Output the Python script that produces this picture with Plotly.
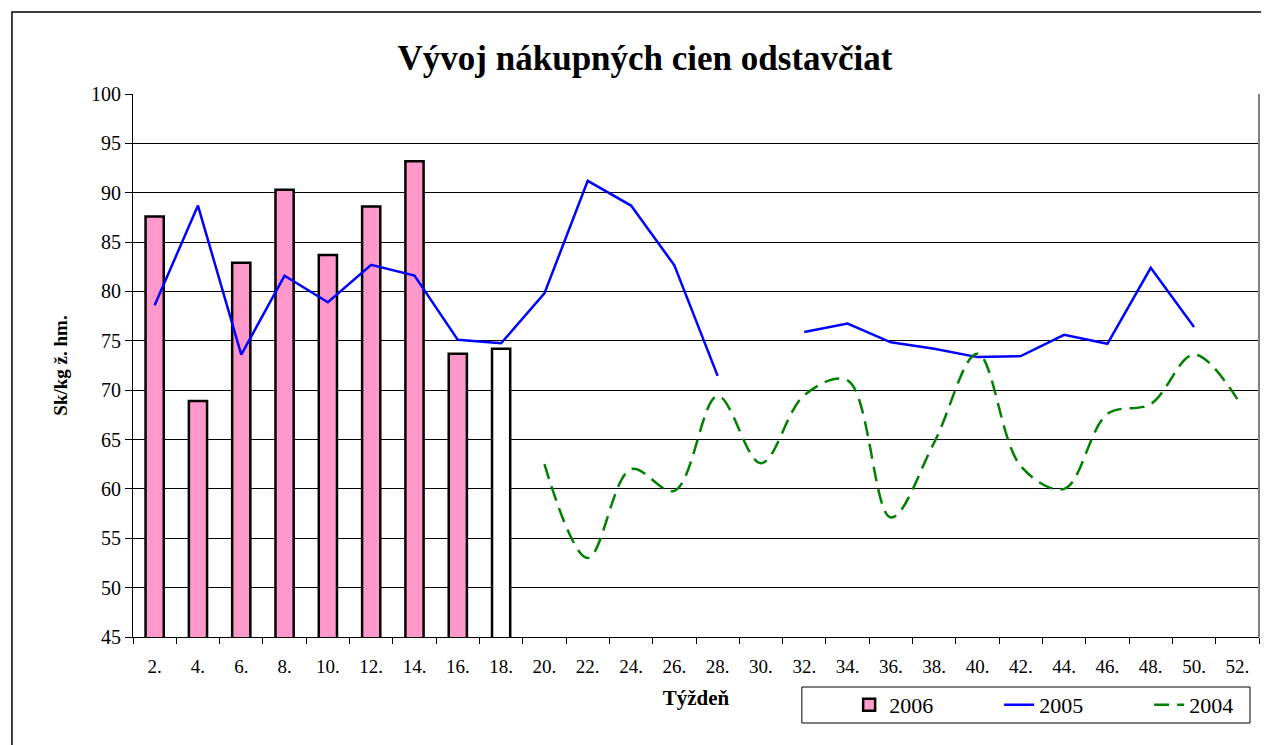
import plotly.graph_objects as go

weeks = [f"{w}." for w in range(2, 53, 2)]

values_2006 = [87.6, 68.9, 82.9, 90.3, 83.7, 88.6, 93.2, 73.7, 74.2]
colors_2006 = ["#FF99CC"] * 8 + ["#FFFFFF"]

values_2005 = [78.6, 88.7, 73.6, 81.6, 78.9, 82.7, 81.6, 75.1, 74.75, 79.8,
               91.2, 88.7, 82.65, 71.45, None, 75.9, 76.75, 74.85, 74.2, 73.35,
               73.45, 75.6, 74.7, 82.4, 76.4]

values_2004 = [None] * 9 + [62.5, 53.0, 62.0, 59.8, 69.4, 62.6, 69.5, 71.0,
                            57.1, 64.7, 73.7, 62.3, 60.0, 67.6, 68.6, 73.6, 69.1]

FONT = "Liberation Serif, Times New Roman, serif"

fig = go.Figure()
fig.add_trace(go.Bar(
    x=weeks[:len(values_2006)], y=values_2006, name="2006",
    marker=dict(color=colors_2006, line=dict(color="black", width=2.5)),
    width=0.42,
))
fig.add_trace(go.Scatter(
    x=weeks[:len(values_2005)], y=values_2005, name="2005", mode="lines",
    line=dict(color="#0000FF", width=2.5), connectgaps=False,
))
fig.add_trace(go.Scatter(
    x=weeks, y=values_2004, name="2004", mode="lines",
    line=dict(color="#008000", width=2.5, dash="15px,8px", shape="spline", smoothing=1.0),
    connectgaps=False,
))

fig.update_layout(
    width=1269, height=745,
    margin=dict(l=125, r=18, t=86, b=116, autoexpand=False),
    paper_bgcolor="white", plot_bgcolor="white",
    font=dict(family=FONT, size=19, color="black"),
    title=dict(text="<b>Vývoj nákupných cien odstavčiat</b>", x=0.502, xanchor="center",
               y=0.933, yanchor="middle", font=dict(family=FONT, size=35, color="black")),
    showlegend=True,
    legend=dict(orientation="h", x=0.636, y=-0.0866, xanchor="left", yanchor="top",
                borderwidth=0, bgcolor="rgba(0,0,0,0)",
                font=dict(family=FONT, size=22), traceorder="normal",
                entrywidth=105, entrywidthmode="pixels"),
    shapes=[
        dict(type="rect", xref="paper", yref="paper",
             x0=-0.1075, x1=1.05, y0=-0.3, y1=1.151,
             line=dict(color="black", width=1.5), fillcolor="rgba(0,0,0,0)",
             layer="below"),
        dict(type="rect", xref="paper", yref="paper",
             x0=0.594, x1=0.992, y0=-0.0921, y1=-0.1584,
             line=dict(color="black", width=1), fillcolor="rgba(0,0,0,0)",
             layer="below"),
        dict(type="line", xref="paper", yref="paper",
             x0=1, x1=1, y0=0, y1=1,
             line=dict(color="#808080", width=2)),
    ],
)
fig.update_xaxes(
    type="category", categoryorder="array", categoryarray=weeks,
    range=[-0.5, len(weeks) - 0.5],
    showline=True, linecolor="black", linewidth=1,
    ticks="outside", ticklen=6, tickcolor="black", tickson="boundaries",
    showgrid=False, ticklabelstandoff=12,
    tickfont=dict(family=FONT, size=19),
    title=dict(text="<b>Týždeň</b>", font=dict(family=FONT, size=21), standoff=14),
)
fig.update_yaxes(
    range=[45, 100], dtick=5, tick0=45,
    showline=True, linecolor="black", linewidth=1,
    ticks="outside", ticklen=7, tickcolor="black",
    showgrid=True, gridcolor="black", gridwidth=1,
    tickfont=dict(family=FONT, size=20),
    title=dict(text="<b>Sk/kg ž. hm.</b>", font=dict(family=FONT, size=19), standoff=18),
    zeroline=False,
)

fig.write_html("out.html")
